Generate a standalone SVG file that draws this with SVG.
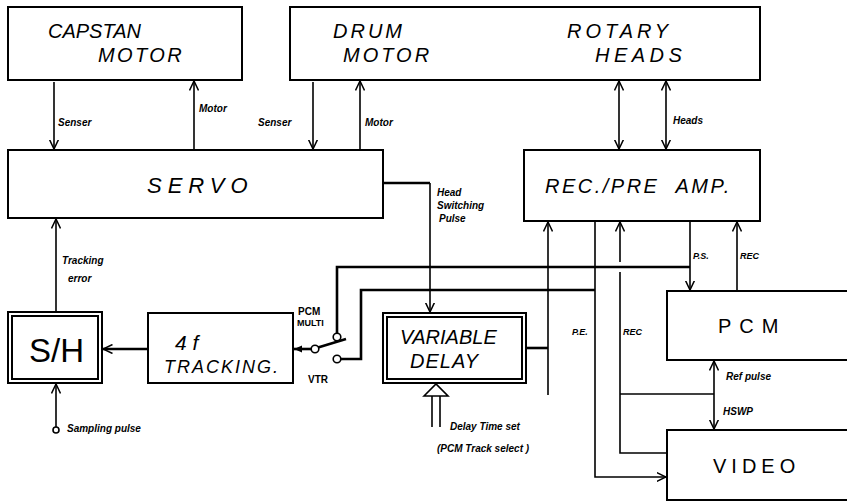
<svg xmlns="http://www.w3.org/2000/svg" width="847" height="502" viewBox="0 0 847 502">
<style>
.box{fill:#fff;stroke:#000;stroke-width:2}
.t{font-family:"Liberation Sans",Arial,sans-serif;font-style:italic;font-size:20px;fill:#000}
.l{font-family:"Liberation Sans",Arial,sans-serif;font-style:italic;font-weight:bold;font-size:10px;fill:#000}
.s{font-family:"Liberation Sans",Arial,sans-serif;font-weight:bold;font-size:10px;fill:#000}
.c{fill:none;stroke:#000;stroke-width:1.6}
.th{stroke-width:2.6}
.o{fill:#fff;stroke:#000;stroke-width:1.6}
</style>
<defs>
<marker id="arr" viewBox="0 0 10 10" refX="9.5" refY="5" markerWidth="10" markerHeight="10" markerUnits="userSpaceOnUse" orient="auto-start-reverse">
<path d="M0,0.5 L9.5,5 L0,9.5" fill="none" stroke="#000" stroke-width="1.5"/>
</marker>
<marker id="fill" viewBox="0 0 10 10" refX="9" refY="5" markerWidth="9" markerHeight="9" markerUnits="userSpaceOnUse" orient="auto">
<path d="M0,1 L9,5 L0,9 z" fill="#000"/>
</marker>
</defs>
<rect width="847" height="502" fill="#fff"/>

<g id="capstan-motor">
<rect class="box" x="8" y="7" width="234" height="73"/>
<text class="t" x="48" y="38">CAPSTAN</text>
<text class="t" x="98" y="62" style="letter-spacing:2.4px">MOTOR</text>
</g>
<g id="drum-rotary">
<rect class="box" x="290" y="7" width="470" height="73"/>
<text class="t" x="333" y="38" style="letter-spacing:3px">DRUM</text>
<text class="t" x="343" y="62" style="letter-spacing:3px">MOTOR</text>
<text class="t" x="567" y="38" style="letter-spacing:4px">ROTARY</text>
<text class="t" x="595" y="62" style="letter-spacing:4.5px">HEADS</text>
</g>
<g id="servo">
<rect class="box" x="8" y="150" width="375" height="68"/>
<text class="t" x="147" y="193" style="font-size:22px;letter-spacing:6px">SERVO</text>
</g>
<g id="rec-pre-amp">
<rect class="box" x="524" y="150" width="236" height="71"/>
<text class="t" x="545" y="193" style="letter-spacing:2.5px">REC./PRE<tspan dx="16">AMP.</tspan></text>
</g>
<g id="sh">
<rect class="box" x="8" y="312" width="94" height="71"/>
<rect class="box" x="12" y="316" width="86" height="63" stroke-width="1.5"/>
<text class="t" x="29" y="362" style="font-size:33px;font-style:normal">S/H</text>
</g>
<g id="tracking">
<rect class="box" x="148" y="313" width="145" height="70"/>
<text class="t" x="175" y="350" style="font-size:21px">4 f</text>
<text class="t" x="164" y="373" style="font-size:18px;letter-spacing:2px">TRACKING.</text>
</g>
<g id="variable-delay">
<rect class="box" x="383" y="313" width="143" height="70"/>
<rect class="box" x="387" y="317" width="135" height="62" stroke-width="1.5"/>
<text class="t" x="400" y="344">VARIABLE</text>
<text class="t" x="410" y="368" style="letter-spacing:1px">DELAY</text>
</g>
<g id="pcm">
<rect class="box" x="667" y="291" width="200" height="69"/>
<text class="t" x="718" y="333" style="font-style:normal;letter-spacing:8px">PCM</text>
</g>
<g id="video">
<rect class="box" x="667" y="430" width="200" height="70"/>
<text class="t" x="713" y="473" style="font-style:normal;letter-spacing:5px">VIDEO</text>
</g>

<g id="connectors">
<path class="c" d="M54,82 V149" marker-end="url(#arr)"/>
<path class="c" d="M194,150 V81" marker-end="url(#arr)"/>
<path class="c" d="M313,82 V149" marker-end="url(#arr)"/>
<path class="c" d="M360,150 V81" marker-end="url(#arr)"/>
<path class="c" d="M619,81 V149" marker-start="url(#arr)" marker-end="url(#arr)"/>
<path class="c" d="M666,81 V149" marker-start="url(#arr)" marker-end="url(#arr)"/>
<path class="c th" d="M383,183 H430"/>
<path class="c" d="M430,183 V312" marker-end="url(#arr)"/>
<path class="c th" d="M526,348 H548"/>
<path class="c" d="M548,395 V222" marker-end="url(#arr)"/>
<path class="c" d="M690,221 V290" marker-end="url(#arr)"/>
<path class="c th" d="M690,267 H337 V333"/>
<path class="c th" d="M595,290 H361 V359 H341"/>
<path class="c" d="M595,221 V477 H666" marker-end="url(#arr)"/>
<path class="c" d="M667,453 H620 V272"/>
<path class="c" d="M620,262 V222" marker-end="url(#arr)"/>
<path class="c" d="M620,394 H714"/>
<path class="c" d="M714,361 V429" marker-start="url(#arr)" marker-end="url(#arr)"/>
<path class="c" d="M737,291 V222" marker-end="url(#arr)"/>
<path class="c" d="M56,312 V219" marker-end="url(#arr)"/>
<circle class="o" cx="56" cy="430" r="3"/>
<path class="c" d="M56,427 V384" marker-end="url(#arr)"/>
<path class="c th" d="M148,349 H103" marker-end="url(#arr)"/>
<circle class="o" cx="337" cy="337" r="3.8"/>
<circle class="o" cx="337" cy="359" r="3.8"/>
<circle class="o" cx="315" cy="349" r="3.8"/>
<path class="c th" d="M311,349 H294" marker-end="url(#fill)"/>
<path class="c th" d="M318,347.5 L346,339"/>
<path class="o" d="M424,396 L436,384 L448,396 Z"/>
<path class="c" d="M432,396 V427 M440,396 V427"/>
</g>

<g id="labels">
<text class="l" x="58" y="126">Senser</text>
<text class="l" x="199" y="112">Motor</text>
<text class="l" x="258" y="126">Senser</text>
<text class="l" x="365" y="126">Motor</text>
<text class="l" x="673" y="124">Heads</text>
<text class="l" x="437" y="196">Head</text>
<text class="l" x="437" y="209">Switching</text>
<text class="l" x="439" y="222">Pulse</text>
<text class="l" x="62" y="264">Tracking</text>
<text class="l" x="68" y="282">error</text>
<text class="s" x="298" y="315">PCM</text>
<text class="s" x="297" y="326" style="font-size:9px">MULTI</text>
<text class="s" x="308" y="383">VTR</text>
<text class="l" x="693" y="259" style="font-size:9px">P.S.</text>
<text class="l" x="740" y="259" style="font-size:9px">REC</text>
<text class="l" x="572" y="335" style="font-size:9px">P.E.</text>
<text class="l" x="623" y="335" style="font-size:9px">REC</text>
<text class="l" x="726" y="380">Ref pulse</text>
<text class="l" x="723" y="415">HSWP</text>
<text class="l" x="67" y="432">Sampling pulse</text>
<text class="l" x="450" y="430">Delay Time  set</text>
<text class="l" x="437" y="452">(PCM Track select )</text>
</g>
</svg>
